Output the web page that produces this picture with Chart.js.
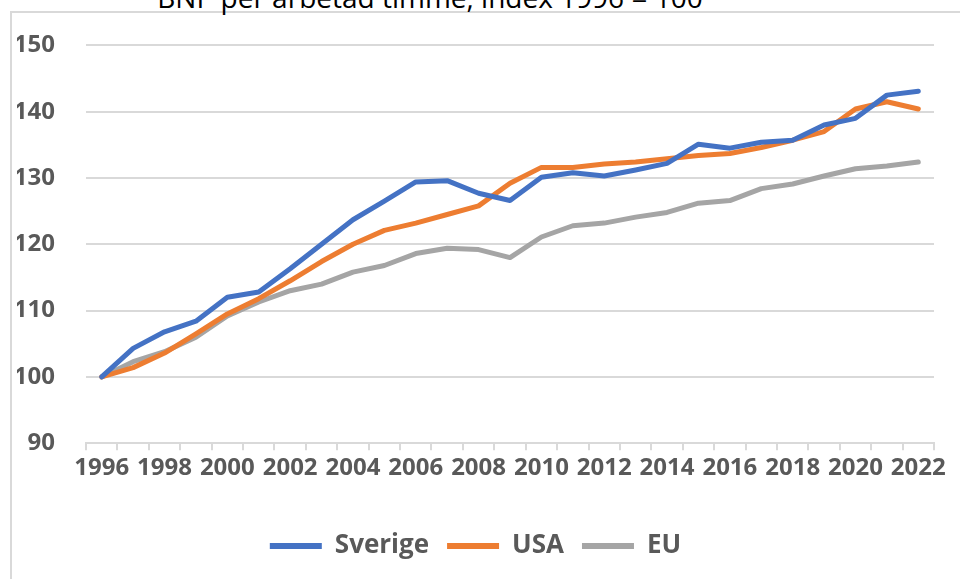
<!DOCTYPE html>
<html>

<head>
    <title>BNP per arbetad timme</title>
    <meta charset="UTF-8">
    <script src="https://cdn.jsdelivr.net/npm/chart.js@4.4.1/dist/chart.umd.min.js"></script>
    <style>
        body { margin: 0; width: 960px; height: 579px; overflow: hidden; position: relative; background: #fff; }
        #frame { position: absolute; left: 10px; top: 11px; width: 1000px; height: 700px; border: 2px solid #d9d9d9; box-sizing: border-box; }
        #title { position: absolute; top: -17px; left: 130px; width: 600px; text-align: center; font-family: "Open Sans"; font-size: 28px; line-height: 28px; color: #000; white-space: nowrap; }
        #wrap { position: absolute; left: 0; top: 0; width: 960px; height: 579px; }
    </style>
</head>

<body>
    <div id="frame"></div>
    <div id="title">BNP per arbetad timme, index 1996 = 100</div>
    <div id="wrap"><canvas id="bnpChart"></canvas></div>
    <script>
        const years = ['1996', '1997', '1998', '1999', '2000', '2001', '2002', '2003', '2004', '2005', '2006', '2007', '2008',
            '2009', '2010', '2011', '2012', '2013', '2014', '2015', '2016', '2017', '2018', '2019', '2020', '2021', '2022'];
        const sverige = [100, 104.3, 106.8, 108.4, 112, 112.8, 116.3, 120, 123.7, 126.5, 129.4, 129.6, 127.7,
            126.6, 130.1, 130.8, 130.3, 131.2, 132.2, 135.1, 134.5, 135.4, 135.7, 138, 139, 142.5, 143.1];
        const usa = [100, 101.4, 103.6, 106.5, 109.5, 111.8, 114.5, 117.4, 120, 122.1, 123.2, 124.5, 125.8,
            129.2, 131.6, 131.6, 132.1, 132.4, 132.9, 133.4, 133.7, 134.6, 135.7, 137, 140.4, 141.5, 140.4];
        const eu = [100, 102.3, 103.8, 106, 109.2, 111.3, 113, 114, 115.8, 116.8, 118.6, 119.4, 119.2,
            118.0, 121.1, 122.8, 123.2, 124.1, 124.8, 126.2, 126.6, 128.4, 129.1, 130.3, 131.4, 131.8, 132.4];
        const yTicks = [90, 100, 110, 120, 130, 140, 150];

        const textColor = '#595959';
        const gridColor = '#d9d9d9';
        const fontFamily = '"Open Sans", sans-serif';

        function line(label, data, color) {
            return {
                label: label,
                data: data,
                borderColor: color,
                backgroundColor: color,
                borderWidth: 5,
                pointRadius: 0,
                tension: 0,
                borderCapStyle: 'round',
                borderJoinStyle: 'round'
            };
        }

        const ctx = document.getElementById('bnpChart');
        new Chart(ctx, {
            type: 'line',
            data: {
                labels: years,
                datasets: [
                    line('Sverige', sverige, '#4472c4'),
                    line('USA', usa, '#ed7d31'),
                    line('EU', eu, '#a5a5a5')
                ]
            },
            options: {
                responsive: true,
                maintainAspectRatio: false,
                animation: false,
                layout: { padding: { top: 45, left: 17, right: 26, bottom: 10 } },
                plugins: {
                    tooltip: { enabled: false },
                    legend: {
                        position: 'bottom',
                        labels: {
                            color: textColor,
                            font: { family: fontFamily, size: 26, weight: 'bold' },
                            boxWidth: 52,
                            boxHeight: 6,
                            padding: 18,
                            generateLabels: (chart) => Chart.defaults.plugins.legend.labels.generateLabels(chart)
                                .map((item) => Object.assign(item, { lineWidth: 0 }))
                        }
                    }
                },
                scales: {
                    x: {
                        offset: true,
                        afterFit: (axis) => { axis.height += 28; },
                        grid: { display: true, drawOnChartArea: false, offset: true, color: gridColor, lineWidth: 2, tickLength: 7 },
                        border: { display: true, color: gridColor, width: 2 },
                        ticks: {
                            color: textColor,
                            font: { family: fontFamily, size: 24, weight: 'bold' },
                            autoSkip: false,
                            maxRotation: 0,
                            padding: 4,
                            callback: function (value, index) { return index % 2 === 0 ? years[index] : ''; }
                        }
                    },
                    y: {
                        min: 90,
                        max: 150,
                        afterBuildTicks: (axis) => { axis.ticks = yTicks.map((v) => ({ value: v })); },
                        afterFit: (axis) => { axis.width = 69; },
                        grid: { color: gridColor, lineWidth: 2, drawTicks: false },
                        border: { display: false },
                        ticks: {
                            color: textColor,
                            font: { family: fontFamily, size: 24, weight: 'bold' },
                            padding: 31
                        }
                    }
                }
            }
        });
    </script>

</body>

</html>
